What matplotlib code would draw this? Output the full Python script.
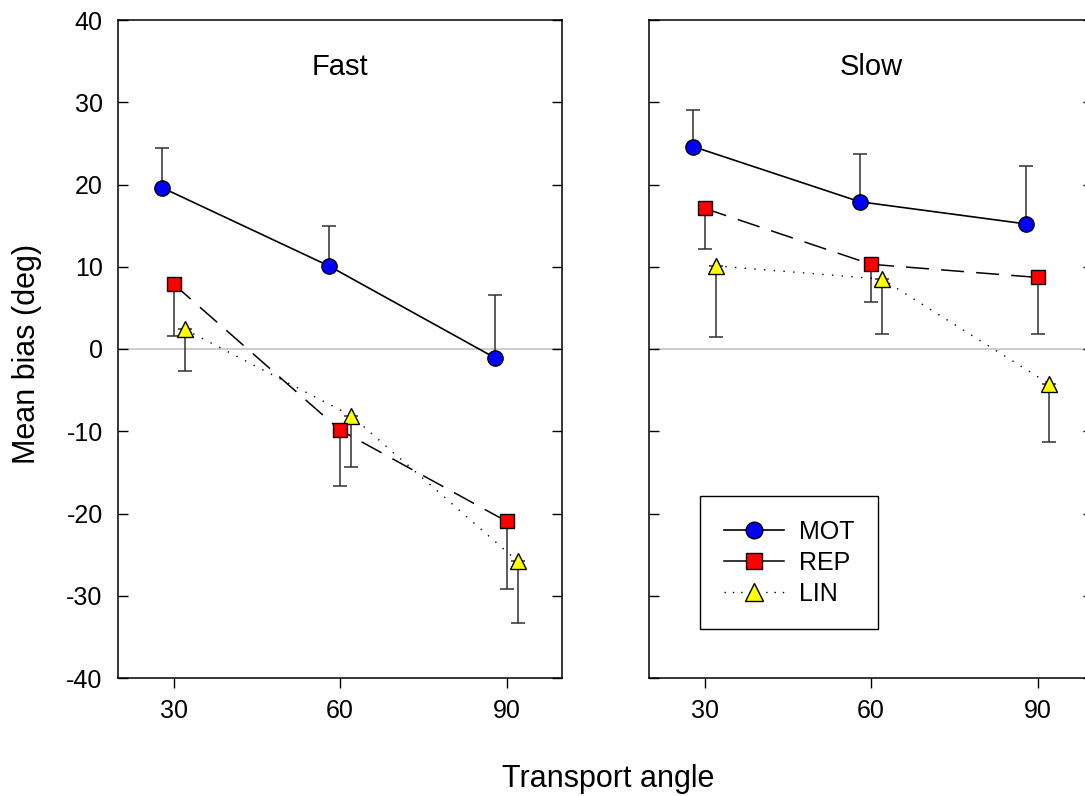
import matplotlib
matplotlib.use("Agg")
import matplotlib.pyplot as plt
from matplotlib.lines import Line2D

plt.rcParams['font.family'] = ['Liberation Sans', 'DejaVu Sans']
plt.rcParams['axes.unicode_minus'] = False

# transport angles (markers are offset a little per condition)
x_mot = [28, 58, 88]
x_rep = [30, 60, 90]
x_lin = [32, 62, 92]

# Fast condition: mean bias (deg) and error (MOT up, REP/LIN down)
fast_mot = [19.6, 10.1, -1.1]
fast_mot_err = [4.8, 4.8, 7.7]
fast_rep = [7.9, -9.85, -20.95]
fast_rep_err = [6.3, 6.75, 8.25]
fast_lin = [2.4, -8.1, -25.8]
fast_lin_err = [5.1, 6.3, 7.5]

# Slow condition
slow_mot = [24.6, 17.9, 15.2]
slow_mot_err = [4.5, 5.8, 7.1]
slow_rep = [17.1, 10.3, 8.7]
slow_rep_err = [4.9, 4.6, 6.9]
slow_lin = [10.1, 8.5, -4.2]
slow_lin_err = [8.6, 6.7, 7.1]

xticks = [30, 60, 90]
yticks = [-40, -30, -20, -10, 0, 10, 20, 30, 40]

rep_dash = (0, (15, 8))
lin_dot = (0, (1, 6))

fig = plt.figure(figsize=(10.85, 7.96), dpi=100)
ax1 = fig.add_axes([118/1085, 118/796, 444/1085, 658/796])
ax2 = fig.add_axes([649/1085, 118/796, 444/1085, 658/796])


def draw_panel(ax, mot, mot_err, rep, rep_err, lin, lin_err, title):
    ax.axhline(0, color='#c8c8c8', lw=1.3, zorder=1)
    ekw = dict(fmt='none', ecolor='#303030', elinewidth=1.1, capsize=5, capthick=1.1, zorder=2)
    ax.errorbar(x_mot, mot, yerr=[[0]*3, mot_err], **ekw)
    ax.errorbar(x_rep, rep, yerr=[rep_err, [0]*3], **ekw)
    ax.errorbar(x_lin, lin, yerr=[lin_err, [0]*3], **ekw)
    ax.plot(x_lin, lin, color='black', lw=1.0, linestyle=lin_dot, marker='^', ms=12,
            mfc='#ffff00', mec='black', mew=1.0, zorder=3)
    ax.plot(x_rep, rep, color='black', lw=1.1, linestyle=rep_dash, marker='s', ms=10,
            mfc='#ff0000', mec='black', mew=1.0, zorder=4)
    ax.plot(x_mot, mot, color='black', lw=1.2, linestyle='-', marker='o', ms=11,
            mfc='#0000ff', mec='black', mew=1.0, zorder=5)
    ax.set_xlim(20, 100)
    ax.set_ylim(-40, 40)
    ax.set_xticks(xticks)
    ax.set_yticks(yticks)
    ax.tick_params(axis='x', direction='out', length=7, width=1, labelsize=18, pad=8)
    ax.tick_params(axis='y', direction='in', length=7, width=1, labelsize=18, pad=11,
                   left=True, right=True)
    for s in ax.spines.values():
        s.set_linewidth(1.1)
    ax.text(0.5, 0.928, title, transform=ax.transAxes, ha='center', va='center', fontsize=21)


draw_panel(ax1, fast_mot, fast_mot_err, fast_rep, fast_rep_err, fast_lin, fast_lin_err, 'Fast')
draw_panel(ax2, slow_mot, slow_mot_err, slow_rep, slow_rep_err, slow_lin, slow_lin_err, 'Slow')
ax2.tick_params(axis='y', labelleft=False)

handles = [
    Line2D([], [], color='black', lw=1.2, marker='o', ms=12, mfc='#0000ff', mec='black'),
    Line2D([], [], color='black', lw=1.1, marker='s', ms=11, mfc='#ff0000', mec='black'),
    Line2D([], [], color='black', lw=1.0, linestyle=(0, (1, 5)), marker='^', ms=13,
           mfc='#ffff00', mec='black'),
]
leg = ax2.legend(handles, ['MOT', 'REP', 'LIN'], loc='upper left',
                 bbox_to_anchor=(0.115, 0.2766), borderaxespad=0, fontsize=18,
                 handlelength=2.4, handletextpad=0.6, labelspacing=0.28,
                 borderpad=0.95, fancybox=False, framealpha=1, edgecolor='black')
leg.get_frame().set_linewidth(1.0)

fig.text(27/1085, 1 - 354/796, 'Mean bias (deg)', rotation=90, ha='center', va='center',
         fontsize=22)
fig.text(608/1085, 9/796, 'Transport angle', ha='center', va='baseline', fontsize=22)

fig.savefig('out.png', dpi=100)
